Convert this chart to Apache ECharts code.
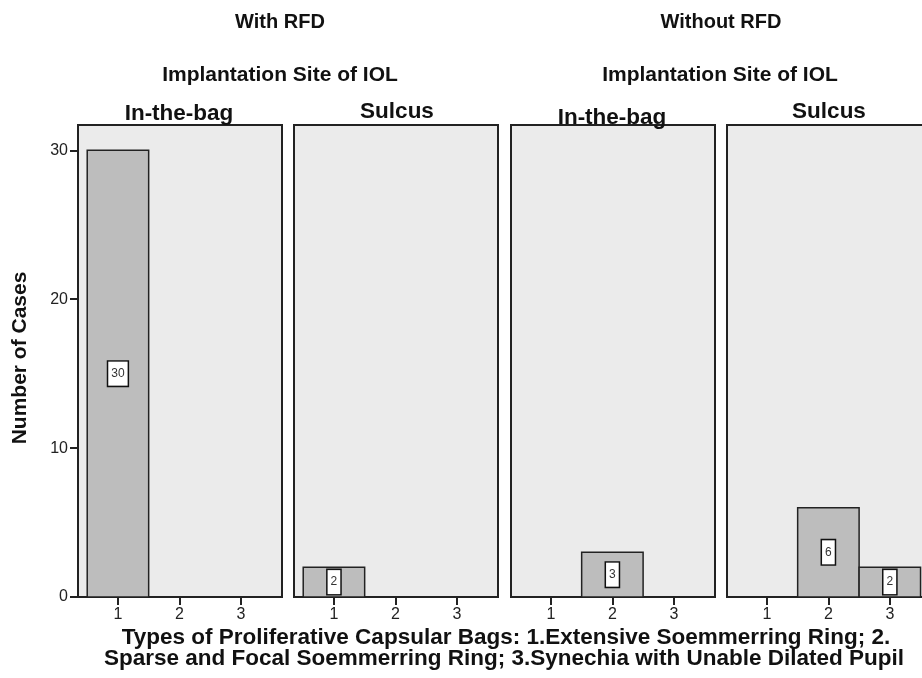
<!DOCTYPE html>
<html>
<head>
<meta charset="utf-8">
<script src="https://cdn.jsdelivr.net/npm/echarts@6/dist/echarts.min.js"></script>
<style>
html,body{margin:0;padding:0;background:#fff;}
#chart{width:922px;height:678px;}
</style>
</head>
<body>
<div id="chart"></div>
<script>
// ---- data ----
const categories = [1, 2, 3];
const withRfdInBag = [30, 0, 0];
const withRfdSulcus = [2, 0, 0];
const withoutRfdInBag = [0, 3, 0];
const withoutRfdSulcus = [0, 6, 2];
const yTicks = [0, 10, 20, 30];
const panelTitles = ['In-the-bag', 'Sulcus', 'In-the-bag', 'Sulcus'];
const groupTitles = ['With RFD', 'Without RFD'];
const subTitle = 'Implantation Site of IOL';
const yTitle = 'Number of Cases';
const xTitle = ['Types of Proliferative Capsular Bags: 1.Extensive Soemmerring Ring; 2.',
                'Sparse and Focal Soemmerring Ring; 3.Synechia with Unable Dilated Pupil'];

const panelsData = [withRfdInBag, withRfdSulcus, withoutRfdInBag, withoutRfdSulcus];

const FONT = '"Liberation Sans", Arial, sans-serif';
const panelLeft = [78, 294, 511, 727];
const panelW = 204;

const chart = echarts.init(document.getElementById('chart'));

function renderItem(params, api) {
  const x = api.value(0), v = api.value(1);
  if (!v) return null;
  const p0 = api.coord([x - 0.5, 0]);
  const p1 = api.coord([x + 0.5, v]);
  const mid = api.coord([x, v / 2]);
  return {
    type: 'group',
    children: [
      { type: 'rect',
        shape: { x: p0[0], y: p1[1], width: p1[0] - p0[0], height: p0[1] - p1[1] },
        style: { fill: '#bdbdbd', stroke: '#222', lineWidth: 1.5 } },
      { type: 'text', x: mid[0], y: mid[1],
        style: { text: String(v), align: 'center', verticalAlign: 'middle',
                 font: '12px ' + FONT, fill: '#333',
                 backgroundColor: '#fff', borderColor: '#111', borderWidth: 1.5,
                 padding: [6, 3] } }
    ]
  };
}

const grids = [], xAxes = [], yAxes = [], series = [];
panelsData.forEach((vals, i) => {
  grids.push({ left: panelLeft[i], width: panelW, top: 125, height: 472, show: true,
               backgroundColor: '#ebebeb', borderColor: '#222', borderWidth: 2,
               containLabel: false, outerBoundsMode: 'none' });
  xAxes.push({ gridIndex: i, type: 'value', min: 0.35, max: 3.67,
               axisLine: { show: true, onZero: false, lineStyle: { color: '#222', width: 2 } },
               splitLine: { show: false },
               axisTick: { show: true, inside: false, length: 8, customValues: categories,
                           lineStyle: { color: '#222', width: 2 } },
               axisLabel: { customValues: categories, margin: 10, fontSize: 16,
                            fontFamily: FONT, color: '#222' } });
  yAxes.push({ gridIndex: i, type: 'value', min: 0, max: 31.7, interval: 10,
               show: i === 0,
               axisLine: { show: true, lineStyle: { color: '#222', width: 2 } },
               splitLine: { show: false },
               axisTick: { show: true, length: 8, customValues: yTicks,
                           lineStyle: { color: '#222', width: 2 } },
               axisLabel: { customValues: yTicks, margin: 10, fontSize: 16,
                            fontFamily: FONT, color: '#222' } });
  series.push({ type: 'custom', xAxisIndex: i, yAxisIndex: i, renderItem: renderItem,
                encode: { x: 0, y: 1 }, clip: false,
                data: categories.map((c, k) => [c, vals[k]]) });
});

function txt(x, y, text, size) {
  return { type: 'text', x: x, y: y, z: 10,
    style: { text: text, align: 'center', verticalAlign: 'middle',
             font: 'bold ' + size + 'px ' + FONT, fill: '#111' } };
}

const graphics = [
  txt(280, 22, groupTitles[0], 20),
  txt(721, 22, groupTitles[1], 20),
  txt(280, 75, subTitle, 21),
  txt(720, 75, subTitle, 21),
  txt(179, 114, panelTitles[0], 22.5),
  txt(397, 112, panelTitles[1], 22.5),
  txt(612, 118, panelTitles[2], 22.5),
  txt(829, 112, panelTitles[3], 22.5),
  txt(506, 638, xTitle[0], 22.5),
  txt(504, 659, xTitle[1], 22.5),
  { type: 'text', x: 20, y: 358, rotation: Math.PI / 2, z: 10,
    style: { text: yTitle, align: 'center', verticalAlign: 'middle',
             font: 'bold 21px ' + FONT, fill: '#111' } }
];

chart.setOption({
  animation: false,
  backgroundColor: '#fff',
  grid: grids, xAxis: xAxes, yAxis: yAxes, series: series,
  graphic: graphics
});
</script>
</body>
</html>
